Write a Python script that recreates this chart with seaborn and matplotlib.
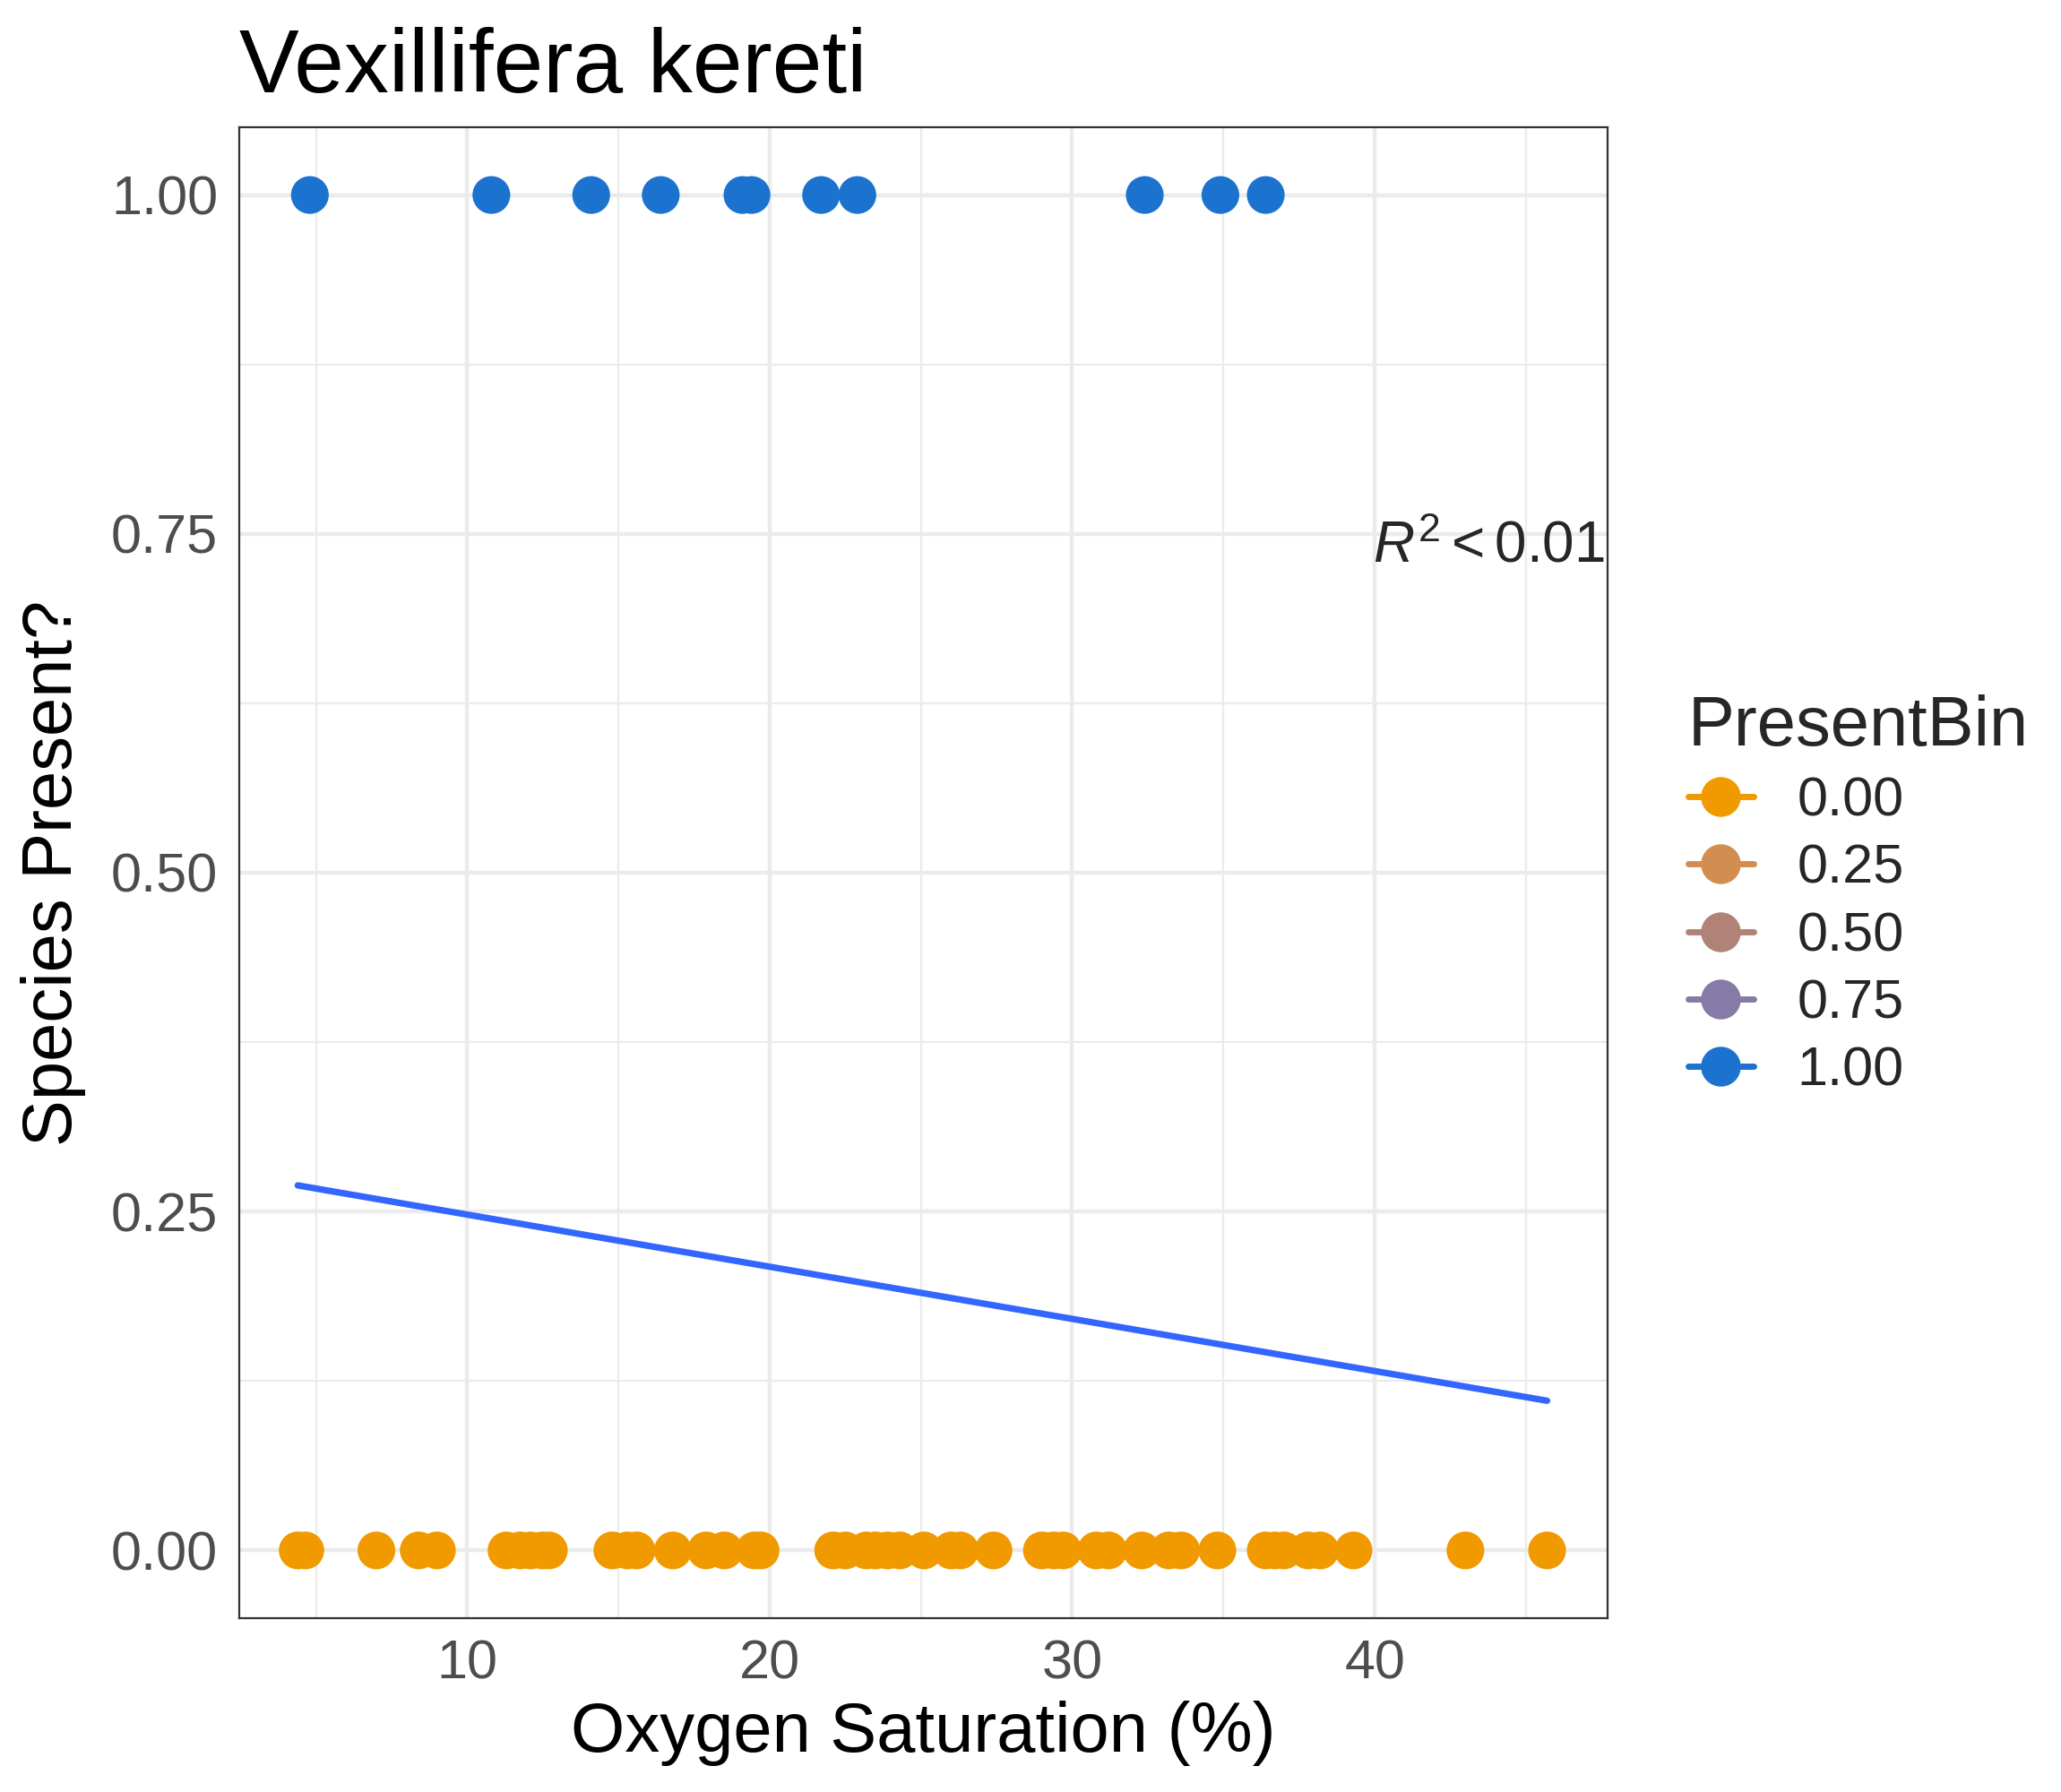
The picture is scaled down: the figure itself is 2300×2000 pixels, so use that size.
import numpy as np
import pandas as pd
import matplotlib
matplotlib.use("Agg")
import matplotlib.pyplot as plt
from matplotlib.lines import Line2D
import seaborn as sns

# oxygen saturation of samples where species present / absent
oxy_present = [4.8, 10.8, 14.1, 16.4, 19.1, 19.4, 21.7, 22.9, 32.4, 34.9, 36.4]
oxy_absent = [4.4, 4.65, 7.0, 8.4, 9.0, 11.3, 11.75, 12.1, 12.5, 12.7, 14.8, 15.3,
              15.6, 16.8, 17.9, 18.5, 19.5, 19.7, 22.1, 22.5, 23.2, 23.5, 23.9,
              24.3, 25.1, 26.0, 26.3, 27.4, 29.0, 29.4, 29.7, 30.8, 31.2, 32.3,
              33.2, 33.6, 34.8, 36.4, 36.7, 37.0, 37.8, 38.2, 39.3, 43.0, 45.7]
legend_levels = ["0.00", "0.25", "0.50", "0.75", "1.00"]
legend_colors = ["#F09A00", "#D28E50", "#B18377", "#857BA6", "#1C73CF"]

df = pd.DataFrame({
    "oxy": oxy_present + oxy_absent,
    "present": [1.0] * len(oxy_present) + [0.0] * len(oxy_absent),
})

sns.set_style("white")
plt.rcParams["font.family"] = ["Liberation Sans", "DejaVu Sans"]
plt.rcParams["mathtext.fontset"] = "custom"
plt.rcParams["mathtext.rm"] = "Liberation Sans"
plt.rcParams["mathtext.it"] = "Liberation Sans:italic"
fig = plt.figure(figsize=(11.5, 10), dpi=200)
ax = fig.add_axes([0.116, 0.097, 0.664, 0.832])

ax.set_xticks([10, 20, 30, 40])
ax.set_xticks([5, 15, 25, 35, 45], minor=True)
ax.set_yticks([0, 0.25, 0.5, 0.75, 1.0])
ax.set_yticks([0.125, 0.375, 0.625, 0.875], minor=True)
ax.set_yticklabels(["0.00", "0.25", "0.50", "0.75", "1.00"])
ax.grid(True, which="major", color="#EBEBEB", lw=1.6)
ax.grid(True, which="minor", color="#EBEBEB", lw=0.8)
ax.set_axisbelow(True)

sns.scatterplot(data=df, x="oxy", y="present", hue="present",
                palette={0.0: legend_colors[0], 1.0: legend_colors[4]},
                s=230, edgecolor="none", legend=False, ax=ax, zorder=3)
sns.regplot(data=df, x="oxy", y="present", scatter=False, ci=None,
            truncate=True, color="#3366FF", line_kws={"lw": 2.6, "zorder": 4}, ax=ax)
ax.set_xlim(2.46, 47.7)
ax.set_ylim(-0.05, 1.05)

ax.text(47.6, 0.74, r"$R^2 < 0.01$", ha="right", va="center", fontsize=23)

for s in ax.spines.values():
    s.set_color("#333333")
    s.set_linewidth(0.8)
ax.tick_params(axis="both", which="major", labelsize=22, labelcolor="#4D4D4D",
               length=5, color="#333333", width=0.8)
ax.tick_params(which="minor", length=0)
ax.set_xlabel("Oxygen Saturation (%)", fontsize=28, labelpad=4, color="black")
ax.set_ylabel("Species Present?", fontsize=28, labelpad=10, color="black")
ax.set_title("Vexillifera kereti", fontsize=36, loc="left", pad=14, color="black")

handles = [Line2D([0], [0], color=c, marker="o", markersize=15, lw=2.5)
           for c in legend_colors]
leg = fig.legend(handles, legend_levels, title="PresentBin", loc="center left",
                 bbox_to_anchor=(0.795, 0.5), frameon=False, fontsize=22,
                 title_fontsize=28, handlelength=1.2, labelspacing=0.3)
leg._legend_box.align = "left"

fig.savefig("out.png", dpi=200)
